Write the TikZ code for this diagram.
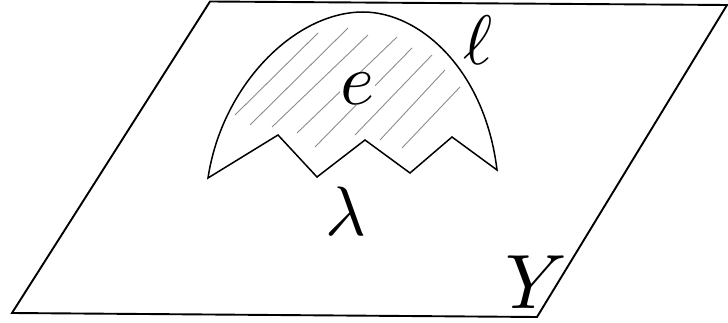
\documentclass[tikz,border=0pt]{standalone}
\usepackage{graphicx}
\newcommand{\mybiglbl}[2]{\scalebox{#1}{$#2$}}
\begin{document}
\begin{tikzpicture}[x=1pt,y=-1pt,
  plane/.style={draw=black,line width=1.9pt,line join=miter},
  region/.style={draw=black,line width=1.5pt,line join=miter},
  hatch/.style={draw=black!45,line width=0.9pt},
  lbl/.style={inner sep=0pt,anchor=base}]
\useasboundingbox (0,0) rectangle (728,323);
% plane Y
\coordinate (TL) at (210,1.5);
\coordinate (TR) at (727,5);
\coordinate (BR) at (537,317);
\coordinate (BL) at (12,313);
\draw[plane] (TL) -- (TR) -- (BR) -- (BL) -- cycle;
% hatching
\foreach \a/\b in {{235,115}/{318,33},{250,125}/{348,28},{272,127}/{368,35},{297,133}/{397,37},{315,147}/{412,48},{355,135}/{432,55},{380,140}/{445,70},{402,148}/{460,87}}
  \draw[hatch] (\a) -- (\b);
% region boundary
\coordinate (L) at (208,178);
\coordinate (T) at (363,12);
\coordinate (R) at (497,170);
\coordinate (z1) at (452,137);
\coordinate (z2) at (410,173);
\coordinate (z3) at (365,140);
\coordinate (z4) at (317,177);
\coordinate (z5) at (278,135);
\draw[region] (L) .. controls (222,85) and (295,12) .. (T)
  .. controls (420,12) and (485,70) .. (R)
  -- (z1) -- (z2) -- (z3) -- (z4) -- (z5) -- cycle;
% labels
\node[lbl,fill=white,inner sep=0.5pt] (e) at (357,105) {\mybiglbl{7.3}{e}};
\node[lbl] (ell) at (478,65) {\mybiglbl{7}{\ell}};
\node[lbl] (lam) at (346,235) {\mybiglbl{7}{\lambda}};
\node[lbl] (Y) at (536,308) {\mybiglbl{7.7}{Y}};
\end{tikzpicture}
\end{document}
